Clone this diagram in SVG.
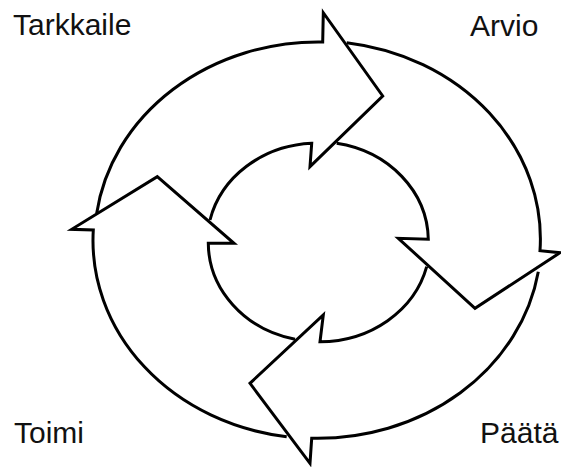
<svg xmlns="http://www.w3.org/2000/svg" width="561" height="467" viewBox="0 0 561 467">
<style>
.arrow{fill:none;stroke:#000;stroke-width:3;stroke-linejoin:miter;stroke-miterlimit:10}
.lbl{font-family:"Liberation Sans",Arial,sans-serif;font-size:30px;fill:#111}
</style>
<rect width="561" height="467" fill="#fff"/>
<g id="connectors">
<g id="arrow-top"><path class="arrow" d="M96.7,213.3 A223.5,198 0 0 1 322.7,42 L323.3,12.7 L382.7,96 L310,166.7 L311.7,143.3 A110,99 0 0 0 210,220"/></g>
<g id="arrow-right"><path class="arrow" d="M346.7,42.7 A223.5,198 0 0 1 540,250.7 L560,252.7 L475,308.3 L398.3,238.3 L428.3,239.3 A110,99 0 0 0 336.7,143.3"/></g>
<g id="arrow-bottom"><path class="arrow" d="M538.3,271.7 A223.5,198 0 0 1 311.7,438.3 L310,463.3 L250,383.3 L323.3,315 L320,341.7 A110,99 0 0 0 426.7,266.7"/></g>
<g id="arrow-left"><path class="arrow" d="M286.7,436.7 A223.5,198 0 0 1 93.3,230 L71.7,229.3 L157.3,176.7 L234,243.3 L208.3,243.3 A110,99 0 0 0 295,339.3"/></g>
</g>
<g id="node-tarkkaile"><text class="lbl" x="13" y="35">Tarkkaile</text></g>
<g id="node-arvio"><text class="lbl" x="470" y="36">Arvio</text></g>
<g id="node-toimi"><text class="lbl" x="14" y="443">Toimi</text></g>
<g id="node-paata"><text class="lbl" x="480" y="443">Päätä</text></g>
</svg>
